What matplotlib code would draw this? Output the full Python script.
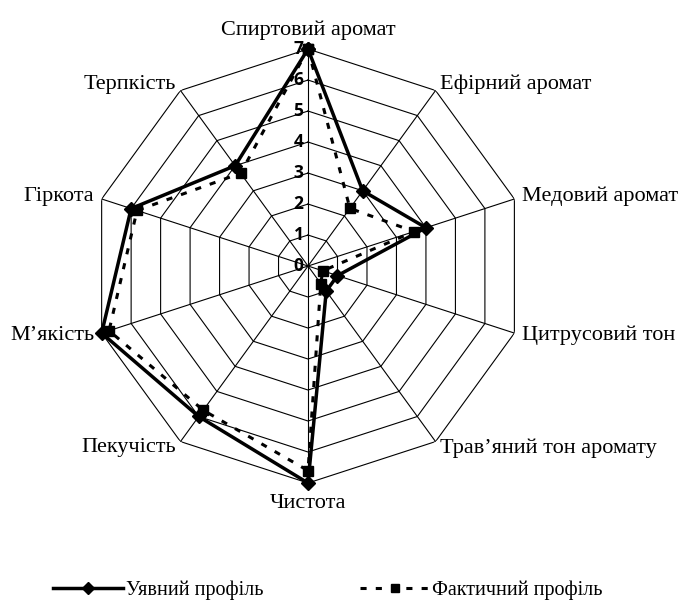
import matplotlib.pyplot as plt
import numpy as np
from matplotlib.lines import Line2D

kategorii = ["Спиртовий аромат", "Ефірний аромат", "Медовий аромат", "Цитрусовий тон",
             "Трав’яний тон аромату", "Чистота", "Пекучість", "М’якість", "Гіркота", "Терпкість"]
uyavnyi = [7, 3, 4, 1, 1, 7, 6, 7, 6, 4]
faktychnyi = [7, 2.3, 3.6, 0.5, 0.7, 6.6, 5.75, 6.75, 5.8, 3.7]
rivni = [0, 1, 2, 3, 4, 5, 6, 7]

n = len(kategorii)
kuty = np.linspace(0, 2 * np.pi, n, endpoint=False)
kuty_z = np.append(kuty, kuty[0])

fig = plt.figure(figsize=(6.89, 6.04), dpi=100)
ax = fig.add_axes([0.1321, 0.2003, 0.6299, 0.7185], projection='polar')
ax.set_theta_zero_location('N')
ax.set_theta_direction(-1)
ax.set_ylim(0, 7)
ax.grid(False)
ax.spines['polar'].set_visible(False)
ax.set_xticks([])
ax.set_yticks([])
ax.patch.set_visible(False)

# сітка - десятикутники
for r in rivni[1:]:
    ax.plot(kuty_z, [r] * (n + 1), color='black', lw=0.8, zorder=1)
for t in kuty:
    ax.plot([t, t], [0, 7], color='black', lw=0.8, zorder=1)

# підписи шкали
for r in rivni:
    ax.text(0, r, str(r) + ' ', ha='right', va='center', fontsize=12.5, fontweight='bold',
            family='Open Sans', zorder=5)

# підписи категорій
serif = 'Liberation Serif'
for t, name in zip(kuty, kategorii):
    deg = np.degrees(t)
    if deg == 0:
        ax.text(t, 7.3, name, ha='center', va='bottom', fontsize=16, family=serif)
    elif abs(deg - 180) < 1:
        ax.text(t, 7.35, name, ha='center', va='top', fontsize=16, family=serif)
    elif deg < 180:
        ax.text(t, 7.25, name, ha='left', va='center', fontsize=16, family=serif)
    else:
        ax.text(t, 7.25, name, ha='right', va='center', fontsize=16, family=serif)

ax.plot(kuty_z, uyavnyi + uyavnyi[:1], color='black', lw=2.5, marker='D', ms=7,
        zorder=4, clip_on=False)
ax.plot(kuty_z, faktychnyi + faktychnyi[:1], color='black', lw=2.2, ls=(0, (2, 3)),
        marker='s', ms=7, zorder=3, clip_on=False)

handles = [
    Line2D([], [], color='black', lw=2.5, marker='D', ms=6),
    Line2D([], [], color='black', lw=2.2, ls=(0, (2, 3)), marker='s', ms=6),
]
fig.legend(handles, ['Уявний профіль', 'Фактичний профіль'], loc='center left',
           bbox_to_anchor=(53 / 689, 1 - 590 / 604), ncol=2, frameon=False,
           borderpad=0, borderaxespad=0, handlelength=3.5,
           columnspacing=4.8, handletextpad=0.1,
           prop={'family': serif, 'size': 14.5})

fig.savefig('out.png', dpi=100)
